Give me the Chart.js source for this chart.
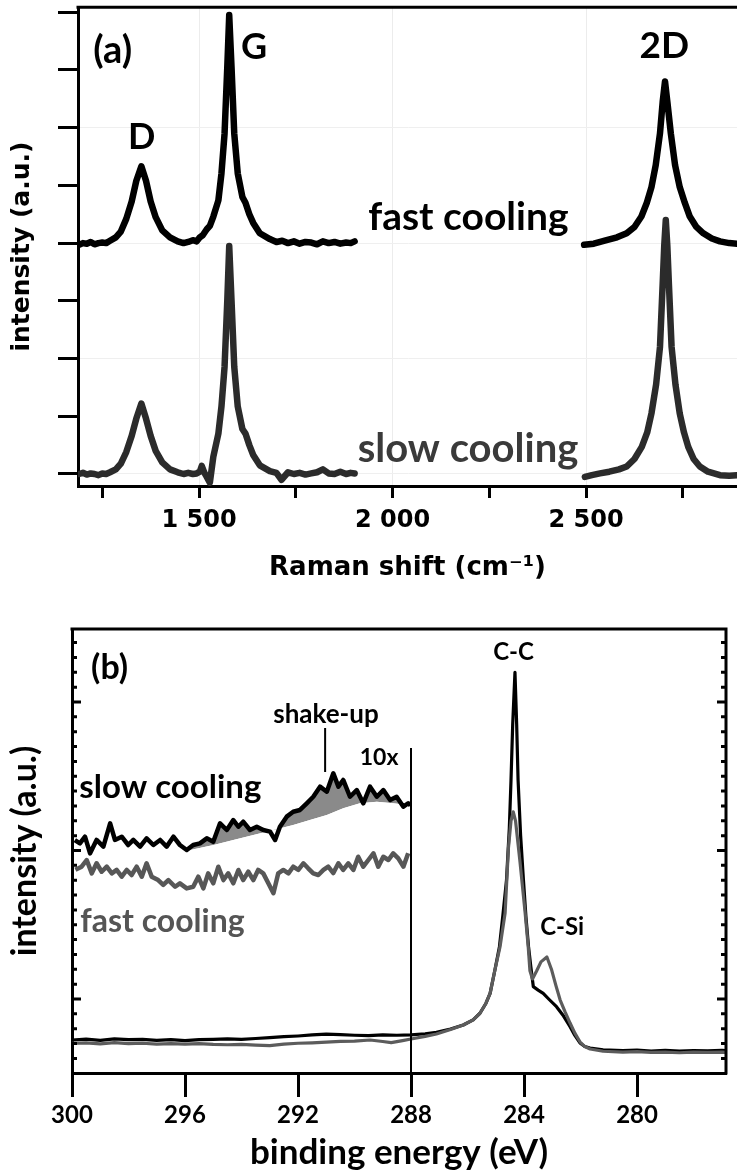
<!DOCTYPE html>
<html>
<head>
<meta charset="utf-8">
<script src="https://cdn.jsdelivr.net/npm/chart.js@4.4.1/dist/chart.umd.min.js"></script>
<style>
  html, body { margin: 0; padding: 0; background: #fff; }
  #wrap { position: relative; width: 737px; height: 1174px; }
  canvas { position: absolute; left: 0; }
  #ramanChart { top: 0; }
  #xpsChart { top: 600px; }
</style>
</head>
<body>
<div id="wrap">
  <canvas id="ramanChart" width="737" height="600"></canvas>
  <canvas id="xpsChart" width="737" height="574"></canvas>
</div>
<script>
// ---- (a) Raman spectra: intensity in axis-tick units, fast trace offset by 4 ----
const fastLowShift = [
  1190, 1200, 1210, 1220, 1230, 1240, 1250, 1260, 1270, 1285,
  1298, 1312, 1326, 1338, 1351, 1363, 1375, 1388, 1405, 1425,
  1445, 1460, 1472, 1484, 1494, 1502, 1510, 1520, 1528, 1537,
  1550, 1558, 1566, 1573, 1578, 1584, 1591, 1600, 1612, 1620,
  1630, 1640, 1657, 1683, 1700, 1715, 1730, 1745, 1760, 1775,
  1790, 1805, 1820, 1835, 1850, 1865, 1880, 1892, 1902
];
const fastLow = [
  3.97, 4.00, 3.99, 4.02, 3.98, 4.00, 4.01, 4.00, 4.04, 4.10,
  4.20, 4.42, 4.72, 5.08, 5.33, 5.08, 4.72, 4.45, 4.22, 4.10,
  4.03, 4.00, 4.02, 4.05, 4.03, 4.10, 4.14, 4.24, 4.30, 4.46,
  4.74, 5.21, 5.90, 7.05, 7.95, 7.05, 5.90, 5.21, 4.80, 4.70,
  4.50, 4.35, 4.17, 4.07, 4.02, 4.04, 4.00, 4.03, 3.99, 4.02,
  4.01, 3.98, 4.03, 4.00, 4.02, 3.99, 4.01, 4.00, 4.03
];
const fastHighShift = [
  2495, 2520, 2553, 2580, 2605, 2625, 2643, 2657, 2669, 2680,
  2691, 2698, 2704, 2710, 2719, 2730, 2742, 2755, 2768, 2785,
  2803, 2825, 2846, 2870, 2890
];
const fastHigh = [
  3.97, 3.99, 4.05, 4.10, 4.17, 4.28, 4.46, 4.70, 4.97, 5.35,
  5.90, 6.45, 6.80, 6.45, 5.90, 5.35, 4.97, 4.70, 4.46, 4.28,
  4.17, 4.08, 4.03, 4.00, 3.99
];
const slowLowShift = [
  1190, 1200, 1210, 1220, 1230, 1240, 1250, 1260, 1270, 1285,
  1298, 1312, 1326, 1338, 1351, 1363, 1375, 1388, 1405, 1425,
  1445, 1460, 1472, 1484, 1494, 1502, 1507, 1514, 1520, 1528,
  1537, 1550, 1558, 1566, 1573, 1578, 1584, 1591, 1600, 1612,
  1620, 1630, 1640, 1657, 1683, 1700, 1713, 1730, 1745, 1760,
  1775, 1790, 1805, 1820, 1835, 1850, 1865, 1880, 1892, 1902
];
const slowLow = [
  0.00, 0.02, -0.01, 0.01, 0.00, -0.02, 0.01, 0.00, 0.03, 0.08,
  0.18, 0.38, 0.66, 0.96, 1.22, 0.96, 0.66, 0.40, 0.20, 0.08,
  0.03, 0.00, 0.02, 0.00, 0.01, 0.04, 0.14, 0.02, -0.05, -0.15,
  0.30, 0.70, 1.17, 1.86, 3.00, 3.95, 3.00, 1.86, 1.17, 0.78,
  0.70, 0.50, 0.33, 0.15, 0.05, 0.02, -0.10, 0.03, 0.00, 0.02,
  -0.01, 0.01, 0.03, 0.08, 0.01, 0.00, 0.04, 0.00, 0.02, 0.01
];
const slowHighShift = [
  2497, 2515, 2536, 2560, 2585, 2605, 2625, 2644, 2658, 2669,
  2681, 2691, 2698, 2702, 2706, 2710, 2714, 2721, 2731, 2742,
  2753, 2764, 2778, 2794, 2815, 2846, 2870, 2890
];
const slowHigh = [
  -0.05, -0.02, 0.01, 0.04, 0.08, 0.13, 0.26, 0.47, 0.72, 1.05,
  1.55, 2.20, 3.30, 3.95, 4.40, 3.95, 3.30, 2.20, 1.55, 1.05,
  0.72, 0.47, 0.26, 0.13, 0.04, -0.02, -0.03, -0.02
];
const ramanTicks = [1250, 1500, 1750, 2000, 2250, 2500, 2750];
const ramanLabelled = [1500, 2000, 2500];
const ramanIntensityTicks = [0, 1, 2, 3, 4, 5, 6, 7, 8];

// ---- (b) XPS C1s: intensity in minor-tick units ----
const slowMainEnergy = [
  300.0, 299.5, 299.0, 298.5, 298.0, 297.5, 297.0, 296.5, 296.0, 295.5,
  295.0, 294.5, 294.0, 293.5, 293.0, 292.5, 292.0, 291.5, 291.0, 290.5,
  290.0, 289.5, 289.0, 288.5, 288.0, 287.5, 287.1, 286.6, 286.15, 285.8,
  285.56, 285.35, 285.2, 285.03, 284.87, 284.75, 284.62, 284.52, 284.46, 284.40,
  284.32, 284.26, 284.21, 284.12, 284.02, 283.93, 283.84, 283.76, 283.67, 283.50,
  283.32, 283.1, 282.85, 282.6, 282.37, 282.2, 282.02, 281.85, 281.66, 281.2,
  280.5, 280.0, 279.5, 279.0, 278.5, 278.0, 277.5, 277.0, 276.85
];
const slowMain = [
  -2.76, -2.70, -2.78, -2.68, -2.74, -2.72, -2.78, -2.74, -2.80, -2.74,
  -2.72, -2.68, -2.72, -2.66, -2.60, -2.54, -2.49, -2.42, -2.36, -2.40,
  -2.44, -2.46, -2.42, -2.44, -2.42, -2.34, -2.25, -2.02, -1.75, -1.40,
  -0.96, -0.30, 0.38, 1.95, 3.52, 5.60, 8.01, 11.5, 14.75, 18.5,
  22.0, 18.5, 14.75, 11.0, 8.01, 5.5, 3.52, 2.2, 0.83, 0.60,
  0.38, -0.05, -0.52, -1.15, -1.86, -2.45, -2.96, -3.20, -3.30, -3.43,
  -3.48, -3.44, -3.50, -3.46, -3.50, -3.47, -3.49, -3.46, -3.48
];
const fastMainEnergy = [
  300.0, 299.5, 299.0, 298.5, 298.0, 297.5, 297.0, 296.5, 296.0, 295.5,
  295.0, 294.5, 294.0, 293.5, 293.0, 292.5, 292.0, 291.5, 291.0, 290.5,
  290.0, 289.45, 289.0, 288.7, 288.3, 288.0, 287.5, 287.1, 286.6, 286.15,
  285.8, 285.56, 285.35, 285.2, 285.03, 284.85, 284.67, 284.55, 284.46, 284.38,
  284.30, 284.14, 283.96, 283.85, 283.79, 283.70, 283.55, 283.40, 283.19, 283.02,
  282.87, 282.72, 282.55, 282.37, 282.2, 282.02, 281.85, 281.66, 281.2, 280.5,
  280.0, 279.5, 279.0, 278.5, 278.0, 277.5, 277.0, 276.85
];
const fastMain = [
  -2.98, -2.96, -3.02, -2.94, -3.00, -2.98, -3.04, -3.00, -3.04, -3.00,
  -3.06, -3.08, -3.05, -3.10, -3.14, -3.04, -2.98, -2.95, -2.90, -2.86,
  -2.84, -2.76, -2.86, -2.94, -2.80, -2.69, -2.52, -2.36, -2.06, -1.75,
  -1.40, -0.96, -0.30, 0.38, 1.95, 3.50, 5.77, 10.2, 12.0, 12.6,
  12.0, 9.2, 5.8, 3.5, 1.9, 1.35, 1.9, 2.5, 2.83, 1.95,
  0.9, -0.07, -0.85, -1.62, -2.3, -2.88, -3.2, -3.37, -3.52, -3.58,
  -3.55, -3.60, -3.58, -3.62, -3.58, -3.60, -3.58, -3.60
];
// 10x magnified region (300 - 288 eV)
const slowInsetEnergy = [
  299.90, 299.72, 299.54, 299.36, 299.13, 298.89, 298.65, 298.48, 298.24, 298.01,
  297.83, 297.59, 297.36, 297.12, 296.88, 296.65, 296.41, 296.18, 295.94, 295.71,
  295.47, 295.23, 295.00, 294.76, 294.52, 294.29, 294.11, 293.94, 293.70, 293.46,
  293.23, 292.99, 292.81, 292.64, 292.40, 292.17, 291.93, 291.69, 291.46, 291.22,
  290.98, 290.75, 290.57, 290.40, 290.16, 289.92, 289.69, 289.45, 289.21, 288.98,
  288.74, 288.51, 288.27, 288.10, 288.02
];
const slowInset = [
  10.70, 10.48, 10.93, 9.81, 10.71, 10.26, 11.83, 10.71, 10.93, 10.37,
  10.71, 10.26, 10.82, 10.37, 10.71, 10.26, 10.93, 10.37, 10.03, 10.37,
  10.48, 10.82, 10.59, 11.83, 11.38, 12.05, 11.60, 11.94, 11.38, 11.60,
  11.38, 11.27, 10.71, 11.60, 12.28, 12.61, 12.73, 13.18, 13.62, 14.30,
  13.96, 15.20, 14.30, 14.75, 13.62, 14.07, 13.18, 14.30, 13.62, 14.07,
  13.40, 13.62, 12.95, 13.18, 13.05
];
const fastInsetEnergy = [
  299.88, 299.66, 299.48, 299.30, 299.13, 298.95, 298.77, 298.59, 298.42, 298.24,
  298.06, 297.89, 297.71, 297.53, 297.36, 297.18, 296.95, 296.77, 296.59, 296.35,
  296.18, 295.94, 295.71, 295.53, 295.35, 295.18, 295.00, 294.82, 294.64, 294.47,
  294.29, 294.11, 293.94, 293.76, 293.58, 293.41, 293.23, 293.05, 292.87, 292.70,
  292.52, 292.34, 292.17, 291.99, 291.81, 291.64, 291.46, 291.28, 291.10, 290.93,
  290.75, 290.57, 290.40, 290.22, 290.04, 289.87, 289.69, 289.51, 289.33, 289.16,
  288.98, 288.80, 288.63, 288.45, 288.27, 288.10
];
const fastInset = [
  8.70, 8.91, 9.36, 8.46, 9.14, 8.57, 8.91, 8.46, 8.69, 8.24,
  8.69, 8.35, 8.91, 8.24, 9.14, 8.24, 8.01, 7.68, 8.01, 7.56,
  7.79, 7.45, 7.56, 8.24, 7.45, 8.46, 7.79, 8.91, 8.01, 8.46,
  7.79, 8.69, 8.01, 8.57, 8.01, 8.69, 8.46, 7.79, 7.12, 8.46,
  8.69, 8.46, 8.91, 8.69, 9.14, 8.80, 8.46, 8.35, 8.69, 8.91,
  8.48, 9.14, 8.69, 9.14, 8.69, 9.58, 8.91, 9.36, 9.81, 8.91,
  9.58, 9.36, 9.81, 9.47, 8.91, 9.81
];
// smooth background under the shake-up satellite (lower edge of the shaded area)
const shakeUpEnergy = [295.82, 294.99, 294.29, 293.58, 292.87, 292.17, 291.58, 290.98, 290.40, 289.81, 289.21, 288.63, 288.10];
const shakeUpBase = [10.03, 10.37, 10.71, 11.04, 11.38, 11.72, 12.05, 12.39, 12.84, 13.18, 13.29, 13.18, 13.06];
const tenXLineEnergy = [288, 288];
const tenXLine = [16.9, -4.98];
const shakeUpMarkerEnergy = [291.04, 291.04];
const shakeUpMarker = [18.25, 15.29];
const bindingTicks = [300, 296, 292, 288, 284, 280];
const xpsMinorTicks = [-4, -3, -2, -1, 0, 1, 2, 3, 4, 5, 6, 7, 8, 9, 10, 11, 12, 13, 14, 15, 16, 17, 18, 19, 20, 21, 22, 23, 24];

function toPoints(xs, ys) {
  return xs.map((x, i) => ({ x, y: ys[i] }));
}

function fixedTicks(values) {
  return scale => { scale.ticks = values.map(value => ({ value })); };
}

// draws the remaining frame sides, inward ticks and the text annotations
const frameAndText = {
  id: 'frameAndText',
  afterDraw(chart, args, opts) {
    const { ctx, chartArea: a, scales: { x, y } } = chart;
    ctx.save();
    ctx.strokeStyle = '#000';
    ctx.lineWidth = 3;
    ctx.beginPath();
    ctx.moveTo(a.left - 1.5, a.top);
    ctx.lineTo(a.right + (opts.rightSide ? 1.5 : 0), a.top);
    if (opts.rightSide) {
      ctx.moveTo(a.right, a.top);
      ctx.lineTo(a.right, a.bottom + 1.5);
    }
    ctx.stroke();

    (opts.innerTicks || []).forEach(v => {
      const py = y.getPixelForValue(v);
      const len = v % 10 === 0 ? 9 : 5;
      ctx.beginPath();
      ctx.moveTo(a.left, py);
      ctx.lineTo(a.left + len, py);
      ctx.moveTo(a.right, py);
      ctx.lineTo(a.right - len, py);
      ctx.stroke();
    });

    (opts.labels || []).forEach(l => {
      ctx.font = l.font;
      ctx.fillStyle = l.color || '#000';
      ctx.textAlign = 'center';
      ctx.textBaseline = l.baseline || 'middle';
      ctx.fillText(l.text, x.getPixelForValue(l.x), y.getPixelForValue(l.y));
    });
    ctx.restore();
  }
};

Chart.defaults.animation = false;
Chart.defaults.devicePixelRatio = 1;

// ---------------- panel (a) ----------------
const gapPoint = [{ x: 2200, y: null }];
const ramanLine = { borderWidth: 6.5, pointRadius: 0, borderJoinStyle: 'round', borderCapStyle: 'round' };
new Chart(document.getElementById('ramanChart'), {
  type: 'line',
  data: {
    datasets: [
      {
        ...ramanLine,
        label: 'fast cooling',
        data: toPoints(fastLowShift, fastLow).concat(gapPoint, toPoints(fastHighShift, fastHigh)),
        borderColor: '#000',
        order: 1
      },
      {
        ...ramanLine,
        label: 'slow cooling',
        data: toPoints(slowLowShift, slowLow).concat(gapPoint, toPoints(slowHighShift, slowHigh)),
        borderColor: '#2b2b2b',
        order: 2
      }
    ]
  },
  options: {
    responsive: false,
    layout: { padding: { top: 7, right: 0, bottom: 0, left: 0 } },
    plugins: {
      legend: { display: false },
      tooltip: { enabled: false },
      frameAndText: {
        rightSide: false,
        labels: [
          { text: '(a)', x: 1277, y: 7.34, font: 'bold 38px Lato' },
          { text: 'G', x: 1642, y: 7.39, font: 'bold 36px Lato' },
          { text: 'D', x: 1352, y: 5.84, font: 'bold 36px Lato' },
          { text: '2D', x: 2702, y: 7.42, font: 'bold 37px Lato' },
          { text: 'fast cooling', x: 2196, y: 4.23, baseline: 'alphabetic', font: 'bold 39px Lato' },
          { text: 'slow cooling', x: 2195, y: 0.21, baseline: 'alphabetic', font: 'bold 40px Lato', color: '#3a3a3a' }
        ]
      }
    },
    scales: {
      x: {
        type: 'linear',
        min: 1187.3,
        max: 2890,
        afterBuildTicks: fixedTicks(ramanTicks),
        afterFit: s => { s.height = 114; s.paddingLeft = 0; s.paddingRight = 0; },
        border: { width: 3, color: '#000' },
        grid: {
          color: c => ramanLabelled.includes(c.tick && c.tick.value) ? '#ececec' : 'rgba(0,0,0,0)',
          lineWidth: 1,
          tickColor: '#000',
          tickWidth: 3,
          tickLength: 12
        },
        ticks: {
          autoSkip: false,
          maxRotation: 0,
          padding: 8,
          color: '#000',
          font: { family: 'DejaVu Sans', size: 24, weight: 'bold' },
          callback: v => ramanLabelled.includes(v) ? String(v).replace(/(\d)(\d{3})$/, '$1 $2') : ''
        },
        title: {
          display: true,
          text: 'Raman shift (cm⁻¹)',
          color: '#000',
          font: { family: 'DejaVu Sans', size: 26, weight: 'bold' },
          padding: { top: 0, bottom: 16 }
        }
      },
      y: {
        type: 'linear',
        min: -0.208,
        max: 8.087,
        afterBuildTicks: fixedTicks(ramanIntensityTicks),
        afterFit: s => { s.width = 78; },
        border: { width: 3, color: '#000' },
        grid: {
          color: c => (c.tick && c.tick.value % 2 === 0 && c.tick.value < 8) ? '#efefef' : 'rgba(0,0,0,0)',
          lineWidth: 1,
          tickColor: '#000',
          tickWidth: 3,
          tickLength: 20
        },
        ticks: {
          padding: 0,
          callback: () => ''
        },
        title: {
          display: true,
          text: 'intensity (a.u.)',
          color: '#000',
          font: { family: 'DejaVu Sans', size: 25, weight: 'bold' },
          padding: { top: 7, bottom: 0 }
        }
      }
    }
  },
  plugins: [frameAndText]
});

// ---------------- panel (b) ----------------
new Chart(document.getElementById('xpsChart'), {
  type: 'line',
  data: {
    datasets: [
      {
        label: 'slow cooling 10x',
        data: toPoints(slowInsetEnergy, slowInset),
        borderColor: '#000',
        borderWidth: 4.5,
        borderJoinStyle: 'round',
        pointRadius: 0,
        fill: { target: 5, above: '#8a8a8a', below: 'rgba(0,0,0,0)' },
        order: 2
      },
      {
        label: 'fast cooling 10x',
        data: toPoints(fastInsetEnergy, fastInset),
        borderColor: '#575757',
        borderWidth: 4.5,
        borderJoinStyle: 'round',
        pointRadius: 0,
        order: 3
      },
      {
        label: 'fast cooling',
        data: toPoints(fastMainEnergy, fastMain),
        borderColor: '#5c5c5c',
        borderWidth: 3.2,
        borderJoinStyle: 'round',
        pointRadius: 0,
        order: 4
      },
      {
        label: 'slow cooling',
        data: toPoints(slowMainEnergy, slowMain),
        borderColor: '#000',
        borderWidth: 3.2,
        borderJoinStyle: 'round',
        pointRadius: 0,
        order: 5
      },
      {
        label: '10x marker',
        data: toPoints(tenXLineEnergy, tenXLine),
        borderColor: '#000',
        borderWidth: 2,
        pointRadius: 0,
        order: 1
      },
      {
        label: 'shake-up background',
        data: toPoints(shakeUpEnergy, shakeUpBase),
        borderColor: 'rgba(0,0,0,0)',
        borderWidth: 0,
        pointRadius: 0,
        order: 6
      },
      {
        label: 'shake-up marker',
        data: toPoints(shakeUpMarkerEnergy, shakeUpMarker),
        borderColor: '#000',
        borderWidth: 2,
        pointRadius: 0,
        order: 1
      }
    ]
  },
  options: {
    responsive: false,
    layout: { padding: { top: 29, right: 11, bottom: 0, left: 0 } },
    plugins: {
      legend: { display: false },
      tooltip: { enabled: false },
      filler: { propagate: false },
      frameAndText: {
        rightSide: true,
        innerTicks: xpsMinorTicks,
        labels: [
          { text: '(b)', x: 298.67, y: 22.32, font: 'bold 34px Lato' },
          { text: 'shake-up', x: 291.01, y: 19.12, font: 'bold 26px Lato' },
          { text: '10x', x: 289.13, y: 16.26, font: 'bold 23px Lato' },
          { text: 'slow cooling', x: 296.52, y: 13.52, baseline: 'alphabetic', font: 'bold 33px Lato' },
          { text: 'fast cooling', x: 296.80, y: 4.51, baseline: 'alphabetic', font: 'bold 32px Lato', color: '#555' },
          { text: 'C-C', x: 284.37, y: 23.33, font: 'bold 24px Lato' },
          { text: 'C-Si', x: 282.65, y: 4.81, font: 'bold 24px Lato' }
        ]
      }
    },
    scales: {
      x: {
        type: 'linear',
        min: 276.85,
        max: 300,
        reverse: true,
        afterBuildTicks: fixedTicks(bindingTicks),
        afterFit: s => { s.height = 101; s.paddingRight = 0; },
        border: { width: 3, color: '#000' },
        grid: {
          drawOnChartArea: false,
          tickColor: '#000',
          tickWidth: 3,
          tickLength: 24
        },
        ticks: {
          autoSkip: false,
          maxRotation: 0,
          padding: 4,
          color: '#000',
          font: { family: 'Lato', size: 24, weight: 'bold' }
        },
        title: {
          display: true,
          text: 'binding energy (eV)',
          color: '#000',
          font: { family: 'Lato', size: 35, weight: 'bold' },
          padding: { top: 0, bottom: 0 }
        }
      },
      y: {
        type: 'linear',
        min: -4.983,
        max: 24.916,
        afterFit: s => { s.width = 72; },
        border: { width: 3, color: '#000' },
        grid: { display: false },
        ticks: { display: false },
        title: {
          display: true,
          text: 'intensity (a.u.)',
          color: '#000',
          font: { family: 'Lato', size: 34, weight: 'bold' },
          padding: { top: 5, bottom: 0 }
        }
      }
    }
  },
  plugins: [frameAndText]
});
</script>
</body>
</html>
